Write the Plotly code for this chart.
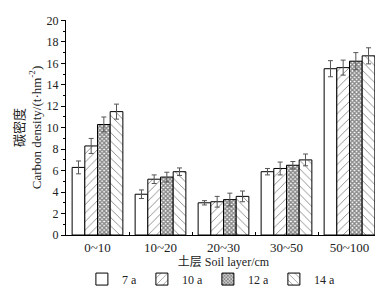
import plotly.graph_objects as go

categories = ["0~10", "10~20", "20~30", "30~50", "50~100"]
series_names = ["7 a", "10 a", "12 a", "14 a"]
values_7a = [6.3, 3.8, 3.0, 5.9, 15.5]
values_10a = [8.3, 5.2, 3.1, 6.2, 15.6]
values_12a = [10.3, 5.4, 3.3, 6.5, 16.2]
values_14a = [11.5, 5.9, 3.6, 7.0, 16.7]
err_7a = [0.6, 0.4, 0.2, 0.3, 0.75]
err_10a = [0.7, 0.4, 0.5, 0.6, 0.7]
err_12a = [0.7, 0.45, 0.6, 0.35, 0.8]
err_14a = [0.7, 0.35, 0.5, 0.55, 0.75]
y_ticks = [0, 2, 4, 6, 8, 10, 12, 14, 16, 18, 20]

FONT = "Liberation Serif, Times New Roman, Noto Sans CJK SC, serif"

series = [
    (series_names[0], values_7a, err_7a, dict(shape="")),
    (series_names[1], values_10a, err_10a, dict(shape="/", size=6, solidity=0.15)),
    (series_names[2], values_12a, err_12a, dict(shape="x", size=3, solidity=0.7)),
    (series_names[3], values_14a, err_14a, dict(shape="\\", size=6, solidity=0.15)),
]

fig = go.Figure()
for name, vals, errs, pat in series:
    pattern = dict(fgcolor="#111111", bgcolor="white", fillmode="overlay", **pat)
    fig.add_trace(go.Bar(
        name=name, x=categories, y=vals,
        marker=dict(color="white", line=dict(color="black", width=1), pattern=pattern),
        error_y=dict(type="data", array=errs, visible=True, color="#555555", thickness=1, width=2.5),
    ))

fig.update_layout(
    width=383, height=292,
    margin=dict(l=58, r=10, t=6, b=59),
    paper_bgcolor="white", plot_bgcolor="white",
    barmode="group", bargap=0.195, bargroupgap=0,
    font=dict(family=FONT, size=11, color="#222222"),
    showlegend=True,
    legend=dict(orientation="h", x=0.46, xanchor="center", y=-0.205, yanchor="middle",
                font=dict(size=12), itemwidth=30, tracegroupgap=0, bgcolor="rgba(0,0,0,0)"),
    xaxis=dict(
        showline=True, linecolor="black", linewidth=1,
        ticks="inside", ticklen=3, tickcolor="black", tickson="boundaries",
        tickfont=dict(size=13),
        title=dict(text="土层 Soil layer/cm", font=dict(size=12), standoff=2),
        showgrid=False,
    ),
    yaxis=dict(
        range=[0, 20.04], tickvals=y_ticks, ticklabeloverflow="allow",
        showline=True, linecolor="black", linewidth=1,
        ticks="outside", ticklen=4, tickcolor="black",
        minor=dict(dtick=1, ticks="outside", ticklen=2, tickcolor="black", showgrid=False),
        tickfont=dict(size=12),
        title=dict(text="碳密度<br>Carbon density/(t·hm<sup>-2</sup>)", font=dict(size=13), standoff=2),
        showgrid=False, zeroline=False,
    ),
)

fig.write_html("out.html")
